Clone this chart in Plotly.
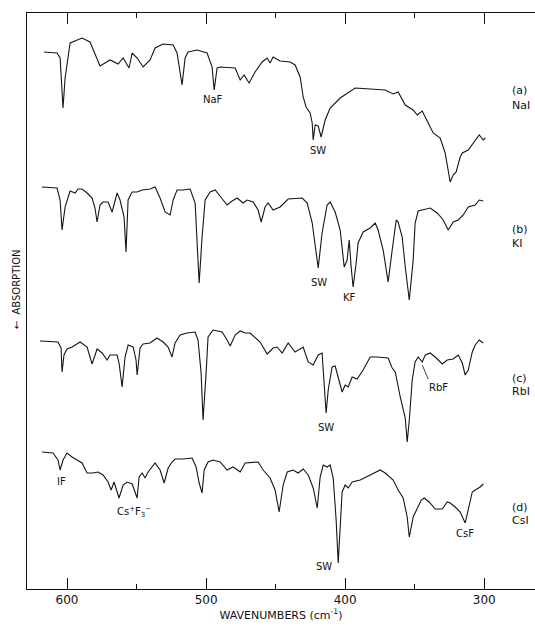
import plotly.graph_objects as go

# ---------------- data (wavenumber in cm-1, absorption in arbitrary units; larger = more absorption) ----
# (a) NaI
wn_a = [616.5, 607.2, 605.0, 602.9, 601.4, 597.8, 589.2, 583.5, 576.3, 572.7,
        569.1, 563.3, 559.7, 555.4, 553.2, 549.6, 545.3, 540.3, 536.7, 530.9,
        523.7, 520.9, 517.3, 515.1, 513.0, 506.5, 499.3, 495.7, 494.2, 492.1,
        489.9, 479.1, 475.5, 472.7, 469.1, 464.8, 459.7, 456.1, 454.0, 451.8,
        446.8, 439.6, 436.0, 432.4, 430.2, 428.1, 425.2, 423.7, 423.0, 421.6,
        419.4, 417.3, 414.4, 410.8, 403.6, 392.8, 382.0, 371.2, 365.5, 361.9,
        356.8, 351.1, 348.2, 344.6, 340.3, 336.7, 331.7, 328.1, 326.6, 324.5,
        322.3, 320.2, 317.3, 315.8, 311.5, 306.5, 303.6, 300.7, 299.3]
abs_a = [22, 23, 28, 78, 48, 13, 8, 12, 36, 33,
         30, 34, 28, 38, 23, 28, 37, 30, 18, 14,
         15, 23, 55, 28, 22, 20, 23, 37, 60, 38,
         37, 38, 50, 45, 53, 42, 32, 28, 33, 27,
         31, 32, 35, 47, 67, 77, 83, 93, 110, 95,
         96, 107, 90, 78, 68, 58, 59, 60, 64, 62,
         75, 80, 85, 81, 93, 103, 108, 123, 135, 152,
         145, 142, 127, 123, 120, 110, 105, 110, 108]

# (b) KI
wn_b = [618.0, 607.2, 605.0, 603.6, 601.4, 597.8, 594.2, 592.1, 589.2, 585.6,
        582.0, 579.9, 578.4, 576.3, 574.1, 570.5, 567.6, 564.0, 561.9, 559.0,
        557.6, 556.1, 553.2, 549.6, 546.0, 540.3, 536.7, 533.1, 529.5, 525.9,
        523.7, 520.9, 516.6, 511.5, 507.9, 506.5, 505.0, 502.9, 500.7, 497.1,
        493.5, 487.8, 484.9, 481.3, 477.7, 473.4, 470.5, 466.2, 462.6, 460.4,
        457.6, 455.4, 451.8, 446.8, 441.0,
        430.9, 427.3, 423.7, 419.4, 416.6, 413.0, 410.8, 407.2, 403.6,
        400.7, 398.6, 397.1, 395.7, 394.3, 392.1, 390.7, 387.1, 382.0, 378.4,
        376.3, 372.7, 369.1, 366.2, 363.3, 361.9, 359.0, 356.8, 353.9, 351.1,
        349.7, 347.5, 338.9, 333.8, 329.5, 325.9, 322.3, 318.7, 315.1, 311.5,
        306.5, 303.6, 300.7]
abs_b = [7, 8, 20, 50, 27, 11, 13, 9, 9, 13,
         18, 28, 42, 25, 22, 22, 32, 13, 20, 37,
         72, 20, 12, 12, 10, 9, 7, 18, 32, 35,
         20, 10, 10, 9, 23, 60, 103, 57, 20, 12,
         10, 20, 25, 21, 18, 23, 20, 22, 30, 42,
         27, 23, 30, 27, 19,
         18, 23, 43, 88, 53, 25, 22, 32, 50,
         87, 80, 60, 87, 107, 83, 63, 52, 48, 43,
         50, 70, 102, 70, 40, 42, 57, 87, 120, 80,
         43, 31, 28, 33, 40, 50, 42, 40, 35, 27,
         25, 20, 21]

# (c) RbI
wn_c = [619.4, 606.5, 604.3, 603.6, 602.2, 600.0, 596.4, 590.6, 585.6, 582.0,
        578.4, 574.8, 571.2, 569.1, 564.0, 562.6, 560.4, 558.3, 556.1, 552.5,
        550.4, 549.6, 547.5, 545.3, 540.3, 535.3, 530.9, 527.3, 524.5, 522.3,
        518.7, 513.7, 507.9, 505.8, 503.6, 502.2, 500.0, 498.6, 495.0, 488.5,
        484.9, 482.7, 479.1, 475.5, 471.9, 468.4, 461.2, 456.1, 451.8, 448.9,
        445.3, 441.0, 436.0, 430.2, 426.6, 423.0, 419.4, 416.6, 415.8, 413.7,
        412.2, 409.4, 407.2, 405.0, 402.2, 400.0, 397.8, 395.0, 391.4, 387.1,
        382.0, 377.0, 369.1, 366.2, 364.0, 360.4, 356.8, 355.4, 353.9, 351.8,
        349.7, 347.5, 344.6, 342.4, 338.9, 335.3, 330.2, 326.6, 322.3, 318.7,
        315.8, 313.7, 311.5, 308.6, 306.5, 303.6, 300.7]
abs_c = [16, 17, 23, 47, 30, 24, 22, 17, 22, 39,
         24, 28, 35, 30, 30, 38, 62, 32, 20, 22,
         35, 50, 23, 19, 18, 13, 17, 22, 32, 18,
         10, 8, 7, 15, 48, 95, 48, 12, 5, 7,
         15, 21, 10, 6, 8, 8, 17, 29, 23, 22,
         28, 18, 27, 22, 37, 40, 30, 28, 45, 88,
         65, 42, 41, 52, 67, 60, 62, 52, 54, 45,
         32, 32, 33, 43, 47, 72, 93, 117, 95, 55,
         37, 32, 37, 30, 28, 32, 39, 35, 34, 30,
         38, 50, 45, 27, 20, 15, 18]

# (d) CsI
wn_d = [618.0, 610.1, 606.5, 605.0, 602.9, 600.0, 596.4, 592.8, 589.2, 585.6,
        581.3, 577.7, 574.1, 570.5, 568.3, 566.2, 562.6, 559.7, 556.8, 553.2,
        549.6, 548.2, 546.0, 543.9, 541.7, 536.7, 533.1, 530.2, 527.3, 524.5,
        522.3, 516.6, 510.1, 507.2, 505.0, 502.9, 501.4, 498.6, 495.0, 489.9,
        484.9, 480.6, 475.5, 471.9, 466.2, 462.6, 459.0, 454.0, 450.4, 447.5,
        444.6, 441.7, 437.4, 433.8, 430.2, 426.6, 423.0, 420.1, 418.0, 415.8,
        413.0, 410.8, 408.6, 406.5, 405.0, 403.6, 402.2, 400.0, 397.8, 395.0,
        389.2, 382.0, 374.8, 371.2, 365.5, 361.9, 358.3, 355.4, 353.9, 351.1,
        348.2, 345.3, 343.2, 339.6, 335.3, 330.2, 326.6, 324.5, 320.9, 317.3,
        313.7, 311.5, 308.6, 306.5, 302.9, 300.7]
abs_d = [7, 8, 15, 25, 15, 8, 12, 15, 18, 28,
         28, 27, 30, 37, 45, 37, 53, 40, 37, 39,
         53, 32, 28, 33, 27, 18, 25, 38, 23, 17,
         14, 14, 13, 22, 38, 48, 25, 17, 15, 17,
         25, 22, 27, 18, 17, 17, 25, 33, 45, 67,
         40, 27, 25, 28, 24, 30, 43, 63, 32, 20,
         22, 20, 33, 75, 118, 82, 47, 40, 43, 37,
         35, 30, 25, 28, 35, 45, 53, 72, 92, 72,
         63, 55, 53, 57, 64, 64, 57, 58, 62, 67,
         78, 65, 47, 45, 42, 39]

series = [("a", wn_a, abs_a), ("b", wn_b, abs_b), ("c", wn_c, abs_c), ("d", wn_d, abs_d)]

# vertical stacking offsets for the four spectra (absorption axis points downward)
OFFSETS = {"a": 30, "b": 180, "c": 325, "d": 445}

fig = go.Figure()
for key, wn, ab in series:
    off = OFFSETS[key]
    fig.add_trace(go.Scatter(
        x=wn, y=[v + off for v in ab], mode="lines",
        line=dict(color="#151515", width=1.1),
        hoverinfo="skip", showlegend=False))

FONT = "DejaVu Sans"
labels = [
    # text, wavenumber, axis-y, size
    ("NaF", 495.0, 99, 10),
    ("SW", 419.4, 150, 10),
    ("SW", 418.7, 282, 10),
    ("KF", 397.1, 297, 10),
    ("SW", 413.7, 427, 10),
    ("RbF", 333.1, 387, 10),
    ("IF", 604.3, 481, 10),
    ("Cs<sup>+</sup>F<sub>3</sub><sup>−</sup>", 551.8, 512, 10),
    ("CsF", 313.7, 533, 10),
    ("SW", 415.1, 566, 10),
]
for text, xw, yv, sz in labels:
    fig.add_annotation(x=xw, y=yv, xref="x", yref="y", text=text, showarrow=False,
                       xanchor="center", yanchor="middle",
                       font=dict(family=FONT, size=sz, color="#111"))

side = [("(a)", 90), ("NaI", 105), ("(b)", 229), ("KI", 243),
        ("(c)", 378), ("RbI", 391), ("(d)", 507), ("CsI", 520)]
for text, yv in side:
    fig.add_annotation(x=281.3, y=yv, xref="x", yref="y", text=text, showarrow=False,
                       xanchor="left", yanchor="middle",
                       font=dict(family=FONT, size=11, color="#111"))

# RbF leader line
fig.add_shape(type="line", xref="x", yref="y", x0=344.6, y0=365, x1=340.3, y1=379,
              line=dict(color="#111", width=0.8))

fig.add_annotation(x=-0.02, y=0.52, xref="paper", yref="paper", text="←  ABSORPTION",
                   textangle=-90, showarrow=False, xanchor="center", yanchor="middle",
                   font=dict(family=FONT, size=10, color="#111"))

fig.update_layout(
    width=535, height=626,
    margin=dict(l=27, r=0, t=13, b=37),
    paper_bgcolor="white", plot_bgcolor="white",
    xaxis=dict(range=[628.8, 263.5], tickmode="array", tickvals=[600, 500, 400, 300],
               ticks="inside", ticklen=11, tickwidth=1, tickcolor="#111",
               showline=True, linecolor="#111", linewidth=1, mirror="ticks",
               minor=dict(tickmode="array", tickvals=[550, 450, 350], ticks="inside",
                          ticklen=5, tickcolor="#111"),
               showgrid=False, zeroline=False, automargin=False,
               tickfont=dict(family=FONT, size=12, color="#111"),
               title=dict(text="WAVENUMBERS (cm<sup>-1</sup>)", standoff=2,
                          font=dict(family=FONT, size=11, color="#111"))),
    yaxis=dict(range=[589, 13], showline=True, linecolor="#111", linewidth=1,
               mirror=False, ticks="", showticklabels=False, showgrid=False, zeroline=False,
               automargin=False),
)

fig.write_html("out.html", config={"displayModeBar": False},
               post_script="document.body.style.margin='0';")
